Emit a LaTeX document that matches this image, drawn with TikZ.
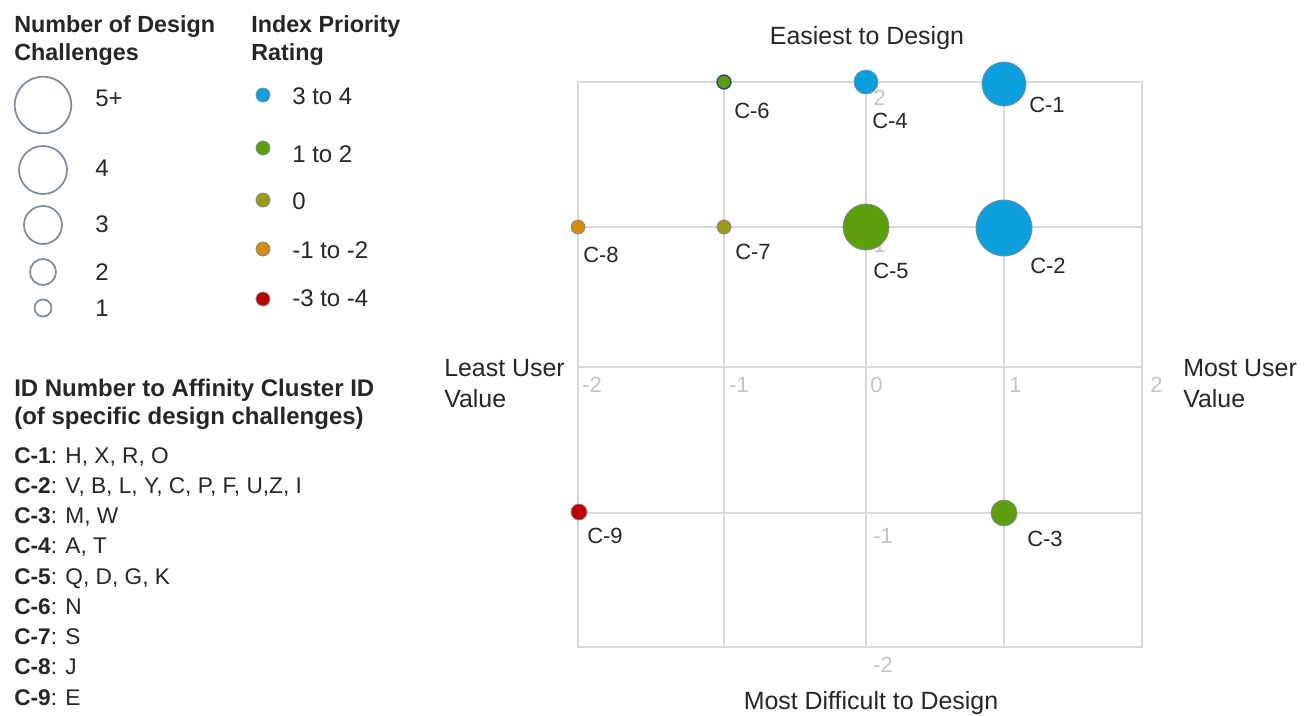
\documentclass[tikz,border=0pt]{standalone}
\usepackage{fontspec}
\setmainfont{Liberation Sans}
\definecolor{cblue}{HTML}{0C9FDD}
\definecolor{cgreen}{HTML}{5C9E0C}
\definecolor{colive}{HTML}{9C9A14}
\definecolor{corange}{HTML}{D58B0B}
\definecolor{cred}{HTML}{BC0000}
\definecolor{cedge}{HTML}{7F8C99}
\definecolor{cnavy}{HTML}{2A3F8F}
\definecolor{gridc}{HTML}{D9D9D9}
\definecolor{tickc}{HTML}{C4C4C4}
\definecolor{ink}{HTML}{262626}
\begin{document}
\begin{tikzpicture}[x=0.75pt,y=-0.75pt,
  txt/.style={inner sep=0, anchor=base west, text=ink},
  ttl/.style={txt, font=\fontsize{17.5}{20}\selectfont\bfseries},
  leg/.style={txt, font=\fontsize{18}{21}\selectfont},
  ent/.style={txt, font=\fontsize{17}{20}\selectfont},
  axt/.style={txt, font=\fontsize{18.7}{21}\selectfont},
  clab/.style={txt, font=\fontsize{16.5}{19}\selectfont},
  tick/.style={txt, text=tickc, font=\fontsize{16.5}{19}\selectfont},
  sizeleg/.style={circle, draw=cedge, line width=1.3pt, fill=white, inner sep=0, minimum size=#1*1.5pt},
  dot/.style={circle, draw=cedge, line width=0.6pt, inner sep=0, minimum size=14*0.75pt},
  bub/.style={circle, draw=cedge, line width=0.6pt, inner sep=0, minimum size=#1*1.5pt},
  gridline/.style={draw=gridc, line width=1.4pt}]
\useasboundingbox (0,0) rectangle (1314,715);

% ---------- legend: number of design challenges ----------
\node[ttl] (t1a) at (14,32) {Number of Design};
\node[ttl] (t1b) at (14,60) {Challenges};
\node[sizeleg=28.3] (s5) at (43,105) {};
\node[sizeleg=24] (s4) at (43,170) {};
\node[sizeleg=19] (s3) at (43,225) {};
\node[sizeleg=13] (s2) at (43,272) {};
\node[sizeleg=8.5] (s1) at (43,308) {};
\node[leg] (l5) at (95,106) {5+};
\node[leg] (l4) at (95,176) {4};
\node[leg] (l3) at (95,232) {3};
\node[leg] (l2) at (95,280) {2};
\node[leg] (l1) at (95,316) {1};

% ---------- legend: index priority rating ----------
\node[ttl] (t2a) at (251,32) {Index Priority};
\node[ttl] (t2b) at (251,60) {Rating};
\node[dot, fill=cblue] (d1) at (263,95) {};
\node[dot, fill=cgreen] (d2) at (263,148) {};
\node[dot, fill=colive] (d3) at (263,200) {};
\node[dot, fill=corange] (d4) at (263,249) {};
\node[dot, fill=cred] (d5) at (263,299) {};
\node[leg] (p1) at (292,104) {3 to 4};
\node[leg] (p2) at (292,162) {1 to 2};
\node[leg] (p3) at (292,209) {0};
\node[leg] (p4) at (292,258) {-1 to -2};
\node[leg] (p5) at (292,306) {-3 to -4};

% ---------- ID list ----------
\node[ttl, font=\fontsize{18}{20}\selectfont\bfseries] (t3a) at (14,396) {ID Number to Affinity Cluster ID};
\node[ttl, font=\fontsize{18}{20}\selectfont\bfseries] (t3b) at (14,424) {(of specific design challenges)};
\node[ent] (e1) at (14,463) {\textbf{C-1}: H, X, R, O};
\node[ent] (e2) at (14,493.25) {\textbf{C-2}: V, B, L, Y, C, P, F, U,Z, I};
\node[ent] (e3) at (14,523.5) {\textbf{C-3}: M, W};
\node[ent] (e4) at (14,553.75) {\textbf{C-4}: A, T};
\node[ent] (e5) at (14,584) {\textbf{C-5}: Q, D, G, K};
\node[ent] (e6) at (14,614.25) {\textbf{C-6}: N};
\node[ent] (e7) at (14,644.5) {\textbf{C-7}: S};
\node[ent] (e8) at (14,674.75) {\textbf{C-8}: J};
\node[ent] (e9) at (14,705) {\textbf{C-9}: E};

% ---------- grid ----------
\foreach \gx in {724,866,1004} \draw[gridline] (\gx,82) -- (\gx,647);
\foreach \gy in {227,367,513} \draw[gridline] (578,\gy) -- (1142,\gy);
\draw[gridline] (578,82) rectangle (1142,647);

% ---------- tick labels ----------
\node[tick] (xm2) at (582,392) {-2};
\node[tick] (xm1) at (729,392) {-1};
\node[tick] (x0) at (870,392) {0};
\node[tick] (x1) at (1009,392) {1};
\node[tick] (x2) at (1150,392) {2};
\node[tick] (y2) at (873,105) {2};
\node[tick] (y1) at (873,252) {1};
\node[tick] (ym1) at (873,543) {-1};
\node[tick] (ym2) at (873,672) {-2};

% ---------- axis titles ----------
\node[axt, anchor=base] (top) at (867,44) {Easiest to Design};
\node[axt, anchor=base] (bot) at (871,709) {Most Difficult to Design};
\node[axt] (lefta) at (444,376) {Least User};
\node[axt] (leftb) at (444,407) {Value};
\node[axt] (righta) at (1183,376) {Most User};
\node[axt] (rightb) at (1183,407) {Value};

% ---------- bubbles ----------
\node[bub=22, fill=cblue] (c1) at (1004,84) {};
\node[bub=28, fill=cblue] (c2) at (1004,228) {};
\node[bub=13, fill=cgreen] (c3) at (1004,513) {};
\node[bub=12, fill=cblue] (c4) at (866,82) {};
\node[bub=23, fill=cgreen] (c5) at (866,227) {};
\node[bub=7, fill=cgreen, draw=cnavy, line width=1pt] (c6) at (724,82) {};
\node[bub=7, fill=colive] (c7) at (724,227) {};
\node[bub=7, fill=corange] (c8) at (578,227) {};
\node[bub=8, fill=cred] (c9) at (579,512) {};

\node[clab] (n1) at (1029,112) {C-1};
\node[clab] (n2) at (1030,273) {C-2};
\node[clab] (n3) at (1027,546) {C-3};
\node[clab] (n4) at (872,128) {C-4};
\node[clab] (n5) at (873,278) {C-5};
\node[clab] (n6) at (734,118) {C-6};
\node[clab] (n7) at (735,259) {C-7};
\node[clab] (n8) at (583,262) {C-8};
\node[clab] (n9) at (587,543) {C-9};
\end{tikzpicture}
\end{document}
